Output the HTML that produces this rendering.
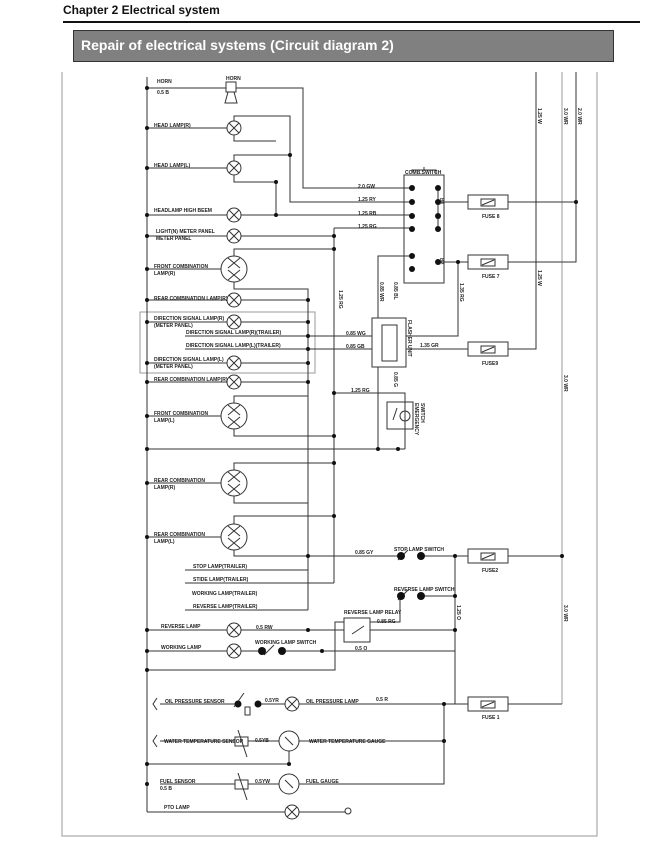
<!DOCTYPE html>
<html><head><meta charset="utf-8"><style>
html,body{margin:0;padding:0;background:#fff;width:661px;height:865px;overflow:hidden;font-family:"Liberation Sans",sans-serif}
.h1{position:absolute;left:63px;top:3px;font-size:12px;font-weight:bold;color:#111}
.rule{position:absolute;left:63px;top:21px;width:577px;height:2px;background:#111}
.box{position:absolute;left:73px;top:30px;width:541px;height:32px;background:#808080;border:1px solid #333;box-sizing:border-box}
.box span{position:absolute;left:7px;top:6px;color:#fff;font-size:14px;font-weight:bold}
svg{position:absolute;left:0;top:0}
text{font-family:"Liberation Sans",sans-serif;font-size:5px;font-weight:bold;fill:#222}
</style></head><body>
<div class="h1">Chapter 2 Electrical system</div>
<div class="rule"></div>
<div class="box"><span>Repair of electrical systems (Circuit diagram 2)</span></div>
<svg width="661" height="865" viewBox="0 0 661 865">
<g fill="none" stroke="#999" stroke-width="1">
<path d="M62 72V836H597V72"/>
<path d="M562 72V704"/>
<path d="M140 312H315V373H140Z"/>
</g>
<g fill="none" stroke="#333" stroke-width="1">
<!-- left bus -->
<path d="M147 77V812"/>
<!-- horn -->
<path d="M147 88H226M236 88H303V188H412"/>
<path d="M226 82h10v10h-10z M228 92l-3 11h12l-3-11"/>
<!-- head lamps -->
<path d="M147 128H227M234 121V116H290V202H412"/>
<path d="M234 135V141H276"/>
<path d="M147 168H227M234 161V155H290M234 175V182H276V215"/>
<path d="M147 215H227M241 215H412"/>
<path d="M147 236H227M241 236H334M334 228H412M334 228V583"/>
<path d="M147 269H221M234 256V249H334M234 282V289H308V610"/>
<path d="M147 300H227M241 300H308"/>
<path d="M147 322H227M241 322H308"/>
<path d="M185 336H372M185 349H372M406 349H468M508 349H536V72"/>
<path d="M147 363H227M241 363H308"/>
<path d="M147 382H227M241 382H308"/>
<path d="M372 318h34v49h-34z"/>
<path d="M382 325h15v36h-15z"/>
<path d="M406 336H458V262"/>
<path d="M378 318V256H412M378 367V449"/>
<path d="M334 393H405V449"/>
<path d="M387 402h26v27h-26z"/>
<path d="M147 449H405"/>
<path d="M147 416H221M234 403V396H308M234 429V436H334"/>
<path d="M147 483H221M234 470V463H334M234 496V503H308"/>
<path d="M147 537H221M234 524V516H334M234 550V556H401M421 556H468M508 556H562"/>
<path d="M185 570H308M185 583H334"/>
<path d="M185 610H308"/>
<path d="M455 556V704M421 596H455M400 596V622H370"/>
<path d="M147 630H227M241 630H344M370 630H455"/>
<path d="M147 651H227M241 651H262M282 651H455"/>
<path d="M147 670H335V622H344"/>
<path d="M344 618h26v24h-26z M352 634l12-8"/>
<!-- comb switch -->
<path d="M404 175h40v108h-40z M412 173v-3h24v3M424 170v-3"/>
<path d="M438 188V229M438 202H468M508 202H576M576 72V262H508M468 262H438"/>
<!-- fuses -->
<path d="M468 195h40v14h-40z M468 255h40v14h-40z M468 342h40v14h-40z M468 549h40v14h-40z M468 697h40v14h-40z"/>
<path d="M481 199h14v7h-14z M481 259h14v7h-14z M481 346h14v7h-14z M481 553h14v7h-14z M481 701h14v7h-14z"/>
<path d="M482 205l12-5M482 265l12-5M482 352l12-5M482 559l12-5M482 707l12-5"/>
<!-- bottom -->
<path d="M160 704H238M258 704H285M299 704H468M508 704H562"/>
<path d="M160 741H235M248 741H279M299 741H444M444 704V784H299"/>
<path d="M147 764H289V751M289 774"/>
<path d="M160 784H235M248 784H279"/>
<path d="M147 812H285M299 812H345"/>
<path d="M235 737h13v9h-13z M235 780h13v9h-13z"/>
<path d="M238 730l9 27M238 773l9 27M244 693l-10 14 M245 707h5v8h-5z"/>
<path d="M157 698l-4 6l4 6M157 735l-4 6l4 6"/>
</g>
<g fill="none" stroke="#333" stroke-width="1">
<circle cx="234" cy="128" r="7"/><circle cx="234" cy="168" r="7"/><circle cx="234" cy="215" r="7"/><circle cx="234" cy="236" r="7"/>
<circle cx="234" cy="300" r="7"/><circle cx="234" cy="322" r="7"/><circle cx="234" cy="363" r="7"/><circle cx="234" cy="382" r="7"/>
<circle cx="234" cy="630" r="7"/><circle cx="234" cy="651" r="7"/><circle cx="292" cy="704" r="7"/><circle cx="292" cy="812" r="7"/>
<circle cx="234" cy="269" r="13"/><circle cx="234" cy="416" r="13"/><circle cx="234" cy="483" r="13"/><circle cx="234" cy="537" r="13"/>
<circle cx="289" cy="741" r="10"/><circle cx="289" cy="784" r="10"/><circle cx="348" cy="811" r="3"/><circle cx="405" cy="416" r="5"/>
<path d="M229 123l10 10M239 123l-10 10M229 163l10 10M239 163l-10 10M229 210l10 10M239 210l-10 10M229 231l10 10M239 231l-10 10M229 295l10 10M239 295l-10 10M229 317l10 10M239 317l-10 10M229 358l10 10M239 358l-10 10M229 377l10 10M239 377l-10 10M229 625l10 10M239 625l-10 10M229 646l10 10M239 646l-10 10M287 699l10 10M297 699l-10 10M287 807l10 10M297 807l-10 10"/>
<path d="M228 258l12 10M240 258l-12 10M228 270l12 10M240 270l-12 10M228 405l12 10M240 405l-12 10M228 417l12 10M240 417l-12 10M228 472l12 10M240 472l-12 10M228 484l12 10M240 484l-12 10M228 526l12 10M240 526l-12 10M228 538l12 10M240 538l-12 10"/>
<path d="M285 737l8 8M285 780l8 8M398 560l10-10M264 655l10-10M398 600l10-10M393 420l4-12"/>
</g>
<g fill="#111">
<circle cx="147" cy="88" r="2"/><circle cx="147" cy="128" r="2"/><circle cx="147" cy="168" r="2"/><circle cx="147" cy="215" r="2"/><circle cx="147" cy="236" r="2"/><circle cx="147" cy="269" r="2"/><circle cx="147" cy="300" r="2"/><circle cx="147" cy="322" r="2"/><circle cx="147" cy="363" r="2"/><circle cx="147" cy="382" r="2"/><circle cx="147" cy="416" r="2"/><circle cx="147" cy="449" r="2"/><circle cx="147" cy="483" r="2"/><circle cx="147" cy="537" r="2"/><circle cx="147" cy="630" r="2"/><circle cx="147" cy="651" r="2"/><circle cx="147" cy="670" r="2"/><circle cx="147" cy="764" r="2"/><circle cx="147" cy="784" r="2"/>
<circle cx="290" cy="155" r="2"/><circle cx="276" cy="182" r="2"/><circle cx="276" cy="215" r="2"/><circle cx="334" cy="236" r="2"/><circle cx="334" cy="249" r="2"/>
<circle cx="308" cy="300" r="2"/><circle cx="308" cy="322" r="2"/><circle cx="308" cy="336" r="2"/><circle cx="308" cy="349" r="2"/><circle cx="308" cy="363" r="2"/><circle cx="308" cy="382" r="2"/><circle cx="334" cy="393" r="2"/><circle cx="334" cy="436" r="2"/><circle cx="378" cy="449" r="2"/><circle cx="398" cy="449" r="2"/><circle cx="334" cy="463" r="2"/><circle cx="334" cy="516" r="2"/><circle cx="308" cy="556" r="2"/><circle cx="455" cy="556" r="2"/><circle cx="562" cy="556" r="2"/><circle cx="455" cy="596" r="2"/><circle cx="308" cy="630" r="2"/><circle cx="455" cy="630" r="2"/><circle cx="322" cy="651" r="2"/>
<circle cx="576" cy="202" r="2"/><circle cx="458" cy="262" r="2"/><circle cx="444" cy="704" r="2"/><circle cx="444" cy="741" r="2"/><circle cx="289" cy="764" r="2"/>
<circle cx="412" cy="188" r="3"/><circle cx="412" cy="202" r="3"/><circle cx="412" cy="216" r="3"/><circle cx="412" cy="229" r="3"/><circle cx="412" cy="256" r="3"/><circle cx="412" cy="269" r="3"/>
<circle cx="438" cy="188" r="3"/><circle cx="438" cy="202" r="3"/><circle cx="438" cy="216" r="3"/><circle cx="438" cy="229" r="3"/><circle cx="438" cy="262" r="3"/>
<circle cx="401" cy="556" r="4"/><circle cx="421" cy="556" r="4"/><circle cx="401" cy="596" r="4"/><circle cx="421" cy="596" r="4"/><circle cx="262" cy="651" r="4"/><circle cx="282" cy="651" r="4"/><circle cx="238" cy="704" r="3.5"/><circle cx="258" cy="704" r="3.5"/>
</g>
<text x="157" y="83">HORN</text><text x="157" y="94">0.5 B</text><text x="226" y="80">HORN</text>
<text x="154" y="127">HEAD LAMP(R)</text><text x="154" y="167">HEAD LAMP(L)</text><text x="154" y="212">HEADLAMP HIGH BEEM</text>
<text x="156" y="233">LIGHT(N) METER PANEL</text><text x="156" y="240">METER PANEL</text>
<text x="154" y="268">FRONT COMBINATION</text><text x="154" y="275">LAMP(R)</text>
<text x="154" y="300">REAR COMBINATION LAMP(R)</text>
<text x="154" y="320">DIRECTION SIGNAL LAMP(R)</text><text x="154" y="327">(METER PANEL)</text>
<text x="186" y="334">DIRECTION SIGNAL LAMP(R)(TRAILER)</text><text x="186" y="347">DIRECTION SIGNAL LAMP(L)(TRAILER)</text>
<text x="154" y="361">DIRECTION SIGNAL LAMP(L)</text><text x="154" y="368">(METER PANEL)</text>
<text x="154" y="381">REAR COMBINATION LAMP(R)</text>
<text x="154" y="415">FRONT COMBINATION</text><text x="154" y="422">LAMP(L)</text>
<text x="154" y="482">REAR COMBINATION</text><text x="154" y="489">LAMP(R)</text>
<text x="154" y="536">REAR COMBINATION</text><text x="154" y="543">LAMP(L)</text>
<text x="193" y="568">STOP LAMP(TRAILER)</text><text x="193" y="581">STIDE LAMP(TRAILER)</text>
<text x="192" y="595">WORKING LAMP(TRAILER)</text><text x="193" y="608">REVERSE LAMP(TRAILER)</text>
<text x="161" y="628">REVERSE LAMP</text><text x="161" y="649">WORKING LAMP</text>
<text x="256" y="629">0.5 RW</text><text x="255" y="644">WORKING LAMP SWITCH</text><text x="355" y="650">0.5 O</text>
<text x="344" y="614">REVERSE LAMP RELAY</text><text x="377" y="623">0.85 RG</text>
<text x="394" y="591">REVERSE  LAMP SWITCH</text><text x="394" y="551">STOP LAMP SWITCH</text><text x="355" y="554">0.85 GY</text>
<text x="482" y="572">FUSE2</text><text x="482" y="218">FUSE 8</text><text x="482" y="278">FUSE 7</text><text x="482" y="365">FUSE9</text><text x="482" y="719">FUSE 1</text>
<text x="358" y="188">2.0 GW</text><text x="358" y="201">1.25 RY</text><text x="358" y="215">1.25 RB</text><text x="358" y="228">1.25 RG</text>
<text x="405" y="174">COMB.SWITCH</text>
<text x="346" y="335">0.85 WG</text><text x="346" y="348">0.85 GB</text><text x="420" y="347">1.35 GR</text><text x="351" y="392">1.25 RG</text>
<text x="165" y="703">OIL PRESSURE SENSOR</text><text x="265" y="702">0.5YR</text><text x="306" y="703">OIL PRESSURE LAMP</text><text x="376" y="701">0.5 R</text>
<text x="164" y="743">WATER TEMPERATURE SENSOR</text><text x="255" y="742">0.5YB</text><text x="309" y="743">WATER TEMPERATURE GAUGE</text>
<text x="160" y="783">FUEL SENSOR</text><text x="160" y="790">0.5 B</text><text x="255" y="783">0.5YW</text><text x="306" y="783">FUEL GAUGE</text><text x="164" y="809">PTO LAMP</text>
<g font-size="5">
<text transform="translate(339,290) rotate(90)">1.25 RG</text>
<text transform="translate(380,282) rotate(90)">0.85 WR</text>
<text transform="translate(394,282) rotate(90)">0.85 BL</text>
<text transform="translate(460,283) rotate(90)">1.35 RG</text>
<text transform="translate(538,270) rotate(90)">1.25 W</text>
<text transform="translate(538,108) rotate(90)">1.25 W</text>
<text transform="translate(564,108) rotate(90)">3.0 WR</text>
<text transform="translate(578,108) rotate(90)">2.0 WR</text>
<text transform="translate(564,375) rotate(90)">3.0 WR</text>
<text transform="translate(564,605) rotate(90)">3.0 WR</text>
<text transform="translate(457,605) rotate(90)">1.25 O</text>
<text transform="translate(394,372) rotate(90)">0.85 G</text>
<text transform="translate(408,320) rotate(90)">FLASHER UNIT</text>
<text transform="translate(415,403) rotate(90)">EMERGENCY</text>
<text transform="translate(421,403) rotate(90)">SWITCH</text>
<text transform="translate(440,198) rotate(90)">B1</text>
<text transform="translate(440,258) rotate(90)">B2</text>
</g>
</svg>
</body></html>
